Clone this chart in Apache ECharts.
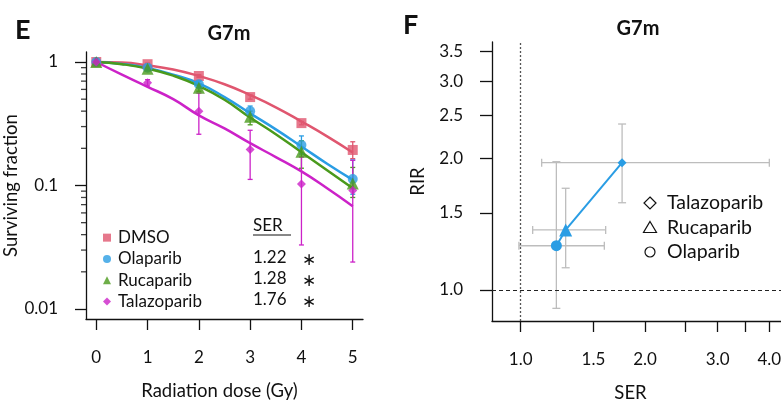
<!DOCTYPE html>
<html>
<head>
<meta charset="utf-8">
<script src="https://cdn.jsdelivr.net/npm/echarts@6/dist/echarts.min.js"></script>
<style>
html,body{margin:0;padding:0;background:#fff}
#main{width:781px;height:403px}
</style>
</head>
<body>
<div id="main"></div>
<script>
// ---- panel E data: clonogenic survival
var doses = [0, 1, 2, 3, 4, 5]
var groups = ['DMSO', 'Olaparib', 'Rucaparib', 'Talazoparib']
var sfDMSO = [1, 0.96, 0.77, 0.52, 0.32, 0.194]
var sfOla = [1, 0.90, 0.66, 0.40, 0.213, 0.113]
var sfRuca = [1, 0.88, 0.62, 0.36, 0.188, 0.104]
var sfTala = [1, 0.68, 0.40, 0.196, 0.103, 0.091]
var loDMSO = [0.99, 0.94, 0.75, 0.50, 0.31, 0.165]
var hiDMSO = [1.01, 0.98, 0.79, 0.54, 0.33, 0.226]
var loOla = [0.97, 0.87, 0.62, 0.37, 0.18, 0.085]
var hiOla = [1.03, 0.93, 0.70, 0.44, 0.252, 0.161]
var loRuca = [0.96, 0.85, 0.58, 0.31, 0.138, 0.08]
var hiRuca = [1.06, 0.91, 0.66, 0.40, 0.23, 0.14]
var loTala = [0.98, 0.64, 0.26, 0.112, 0.033, 0.024]
var hiTala = [1.02, 0.72, 0.56, 0.28, 0.17, 0.16]
// fitted curves
var fitDose = [0, 0.5, 1, 1.5, 2, 2.5, 3, 3.5, 4, 4.5, 5]
var fitDMSO = [1, 0.99, 0.94, 0.87, 0.77, 0.66, 0.54, 0.43, 0.33, 0.25, 0.185]
var fitOla = [1, 0.965, 0.895, 0.79, 0.672, 0.52, 0.384, 0.285, 0.207, 0.15, 0.111]
var fitRuca = [1, 0.96, 0.885, 0.775, 0.64, 0.495, 0.355, 0.26, 0.186, 0.133, 0.095]
var fitTala = [1, 0.79, 0.63, 0.5, 0.37, 0.29, 0.22, 0.17, 0.13, 0.095, 0.068]
var serText = ['', '1.22', '1.28', '1.76']
var doseTicks = [0, 1, 2, 3, 4, 5]
var sfMajor = [0.01, 0.1, 1]
var sfMinor = [0.02, 0.03, 0.04, 0.05, 0.06, 0.07, 0.08, 0.09, 0.2, 0.3, 0.4, 0.5, 0.6, 0.7, 0.8, 0.9]

// ---- panel F data: SER vs RIR
var drugsF = ['Olaparib', 'Rucaparib', 'Talazoparib']
var ser = [1.22, 1.285, 1.76]
var serLo = [0.99, 1.069, 1.124]
var serHi = [1.594, 1.606, 4.0]
var rir = [1.262, 1.371, 1.953]
var rirLo = [0.908, 1.124, 1.582]
var rirHi = [1.963, 1.707, 2.393]
var serTicks = [1, 1.5, 2, 2.5, 3, 3.5, 4]
var serLabels = [1, 1.5, 2, 3, 4]
var rirTicks = [1, 1.5, 2, 2.5, 3, 3.5]
var refSER = 1
var refRIR = 1

var F = 'Lato, "Noto Sans", sans-serif'
var colors = ['#E0566F', '#2A9DE4', '#4A9A1C', '#CC22C8']
var symbols = ['rect', 'circle', 'triangle', 'diamond']
var sizes = [10, 10, 12, 9]
var symF = ['circle', 'triangle', 'diamond']
var sizeF = [11, 13, 9]
var blue = '#2A9DE4'
var axisCol = '#111'
var doseMin = -0.2, doseMax = 5.2
var sfMin = -2.081, sfMax = 0.081

var lg = function(v){ return Math.log10(v) }
var sfAll = [sfDMSO, sfOla, sfRuca, sfTala]
var loAll = [loDMSO, loOla, loRuca, loTala]
var hiAll = [hiDMSO, hiOla, hiRuca, hiTala]
var fitAll = [fitDMSO, fitOla, fitRuca, fitTala]

function vBar(cap, color, width){
  return function(params, api){
    var x = api.value(0)
    var p1 = api.coord([x, api.value(1)])
    var p2 = api.coord([x, api.value(2)])
    var st = {stroke: color, lineWidth: width}
    return {type: 'group', children: [
      {type: 'line', shape: {x1: p1[0], y1: p1[1], x2: p2[0], y2: p2[1]}, style: st},
      {type: 'line', shape: {x1: p1[0]-cap, y1: p1[1], x2: p1[0]+cap, y2: p1[1]}, style: st},
      {type: 'line', shape: {x1: p2[0]-cap, y1: p2[1], x2: p2[0]+cap, y2: p2[1]}, style: st}
    ]}
  }
}
function hBar(cap, color, width){
  return function(params, api){
    var y = api.value(0)
    var p1 = api.coord([api.value(1), y])
    var p2 = api.coord([api.value(2), y])
    var st = {stroke: color, lineWidth: width}
    return {type: 'group', children: [
      {type: 'line', shape: {x1: p1[0], y1: p1[1], x2: p2[0], y2: p2[1]}, style: st},
      {type: 'line', shape: {x1: p1[0], y1: p1[1]-cap, x2: p1[0], y2: p1[1]+cap}, style: st},
      {type: 'line', shape: {x1: p2[0], y1: p2[1]-cap, x2: p2[0], y2: p2[1]+cap}, style: st}
    ]}
  }
}

var series = []
groups.forEach(function(g, i){
  series.push({
    name: g + ' fit', type: 'line', xAxisIndex: 0, yAxisIndex: 0, smooth: true,
    showSymbol: false, silent: true, z: 2,
    lineStyle: {color: colors[i], width: 2.5},
    data: fitDose.map(function(d, k){ return [d, lg(fitAll[i][k])] })
  })
  series.push({
    name: g + ' err', type: 'custom', xAxisIndex: 0, yAxisIndex: 0, z: 3, silent: true,
    renderItem: vBar(2.5, colors[i], 1.3),
    data: doses.map(function(d, k){ return [d, lg(loAll[i][k]), lg(hiAll[i][k])] })
  })
  series.push({
    name: g, type: 'scatter', xAxisIndex: 0, yAxisIndex: 0, z: 4,
    symbol: symbols[i], symbolSize: sizes[i],
    itemStyle: {color: colors[i]},
    data: doses.map(function(d, k){ return [d, lg(sfAll[i][k])] })
  })
})
// minor log ticks of the survival axis, as thin bars hanging off the axis line
series.push({
  name: 'minor ticks', type: 'scatter', xAxisIndex: 0, yAxisIndex: 0, silent: true, clip: false, z: 6,
  symbol: 'rect', symbolSize: [5, 1.3], symbolOffset: [-2.5, 0],
  itemStyle: {color: axisCol},
  data: sfMinor.map(function(v){ return [doseMin, lg(v)] })
})
series.push({
  name: 'RIR err', type: 'custom', xAxisIndex: 1, yAxisIndex: 1, z: 1, silent: true,
  renderItem: vBar(4, '#BDBDBD', 1.3),
  data: ser.map(function(s, i){ return [lg(s), lg(rirLo[i]), lg(rirHi[i])] })
})
series.push({
  name: 'SER err', type: 'custom', xAxisIndex: 1, yAxisIndex: 1, z: 1, silent: true,
  renderItem: hBar(4, '#BDBDBD', 1.3),
  data: rir.map(function(r, i){ return [lg(r), lg(serLo[i]), lg(serHi[i])] })
})
series.push({
  name: 'SER vs RIR', type: 'line', xAxisIndex: 1, yAxisIndex: 1, z: 3,
  lineStyle: {color: blue, width: 2}, itemStyle: {color: blue},
  data: ser.map(function(s, i){
    return {name: drugsF[i], value: [lg(s), lg(rir[i])], symbol: symF[i], symbolSize: sizeF[i]}
  }),
  markLine: {
    silent: true, symbol: ['none', 'none'], label: {show: false},
    data: [
      {xAxis: lg(refSER), lineStyle: {color: '#555', type: [2, 2], width: 1.3}},
      {yAxis: lg(refRIR), lineStyle: {color: '#222', type: [4, 3], width: 1}}
    ]
  }
})

var lineSt = {color: axisCol, width: 1.3}
function fmtSF(v){ return String(parseFloat(Math.pow(10, v).toPrecision(3))) }
function fmt1(v){ return Math.pow(10, v).toFixed(1) }

var option = {
  animation: false,
  backgroundColor: '#fff',
  textStyle: {fontFamily: F},
  title: [
    {text: 'G7m', left: 224, top: 19, textAlign: 'center', textStyle: {fontFamily: F, fontSize: 20, fontWeight: 'bold', color: '#111'}},
    {text: 'G7m', left: 633, top: 14, textAlign: 'center', textStyle: {fontFamily: F, fontSize: 20, fontWeight: 'bold', color: '#111'}}
  ],
  legend: {
    data: groups.map(function(n, i){ return {name: n, icon: symbols[i]} }),
    orient: 'vertical', left: 98, top: 222, itemWidth: 8, itemHeight: 8, itemGap: 0,
    selectedMode: false,
    textStyle: {fontFamily: F, fontSize: 17, color: '#111', lineHeight: 21.3, padding: [0, 0, 0, 2]}
  },
  grid: [
    {left: 86, top: 52, width: 277, height: 267, containLabel: false, outerBoundsMode: 'none'},
    {left: 492, top: 42, width: 289, height: 279, containLabel: false, outerBoundsMode: 'none'}
  ],
  xAxis: [
    {gridIndex: 0, type: 'value', min: doseMin, max: doseMax, splitLine: {show: false},
      axisLine: {onZero: false, lineStyle: lineSt},
      axisTick: {length: 11, customValues: doseTicks, lineStyle: lineSt},
      axisLabel: {customValues: doseTicks, margin: 30, fontSize: 17, color: axisCol, fontFamily: F},
      name: 'Radiation dose (Gy)', nameLocation: 'middle', nameGap: 63,
      nameTextStyle: {fontSize: 18.5, color: axisCol, fontFamily: F, padding: [0, 10, 0, 0]}},
    {gridIndex: 1, type: 'value', min: -0.0695, max: 0.6303, splitLine: {show: false},
      axisLine: {onZero: false, lineStyle: lineSt},
      axisTick: {length: 11, customValues: serTicks.map(lg), lineStyle: lineSt},
      axisLabel: {customValues: serLabels.map(lg), formatter: fmt1, margin: 30, fontSize: 17, color: axisCol, fontFamily: F},
      name: 'SER', nameLocation: 'middle', nameGap: 63,
      nameTextStyle: {fontSize: 18.5, color: axisCol, fontFamily: F, padding: [0, 12, 0, 0]}}
  ],
  yAxis: [
    {gridIndex: 0, type: 'value', min: sfMin, max: sfMax, splitLine: {show: false},
      axisLine: {onZero: false, lineStyle: lineSt},
      axisTick: {length: 11, customValues: sfMajor.map(lg), lineStyle: lineSt},
      axisLabel: {customValues: sfMajor.map(lg), formatter: fmtSF, margin: 28, fontSize: 17, color: axisCol, fontFamily: F},
      name: 'Surviving fraction', nameLocation: 'middle', nameGap: 60,
      nameTextStyle: {fontSize: 18.5, color: axisCol, fontFamily: F}},
    {gridIndex: 1, type: 'value', min: -0.0708, max: 0.5662, splitLine: {show: false},
      axisLine: {onZero: false, lineStyle: lineSt},
      axisTick: {length: 12, customValues: rirTicks.map(lg), lineStyle: lineSt},
      axisLabel: {customValues: rirTicks.map(lg), formatter: fmt1, margin: 29, fontSize: 17, color: axisCol, fontFamily: F},
      name: 'RIR', nameLocation: 'middle', nameGap: 64,
      nameTextStyle: {fontSize: 18.5, color: axisCol, fontFamily: F}}
  ],
  graphic: [],
  series: series
}

// panel letters, SER column, panel F key
var g = option.graphic
function txt(x, y, s, size, weight, align){
  g.push({type: 'text', x: x, y: y, silent: true, style: {
    text: s, fill: '#111', font: (weight || 'normal') + ' ' + size + 'px ' + F,
    textAlign: align || 'left', align: align || 'left', textVerticalAlign: 'middle', verticalAlign: 'middle'}})
}
txt(15, 30, 'E', 27, 'bold')
txt(403, 25, 'F', 27, 'bold')
txt(253, 226, 'SER', 17)
g.push({type: 'line', silent: true, shape: {x1: 253, y1: 235, x2: 291, y2: 235}, style: {stroke: '#111', lineWidth: 1}})
serText.forEach(function(s, i){
  if (!s) return
  txt(253, 236 + 21.3 * i, s, 17)
  txt(302, 238 + 21.3 * i, '\u2217', 17)
})
var keyY = [203, 228, 252]
var keyName = ['Talazoparib', 'Rucaparib', 'Olaparib']
var kst = {stroke: '#111', fill: 'none', lineWidth: 1.2}
g.push({type: 'polygon', silent: true, shape: {points: [[650, 197], [656, 203], [650, 209], [644, 203]]}, style: kst})
g.push({type: 'polygon', silent: true, shape: {points: [[650, 221.5], [656.5, 232.5], [643.5, 232.5]]}, style: kst})
g.push({type: 'circle', silent: true, shape: {cx: 650, cy: 252, r: 5}, style: kst})
keyName.forEach(function(s, i){ txt(667, keyY[i], s, 19.5) })

var chart = echarts.init(document.getElementById('main'), null, {renderer: 'canvas'})
chart.setOption(option)
</script>
</body>
</html>
